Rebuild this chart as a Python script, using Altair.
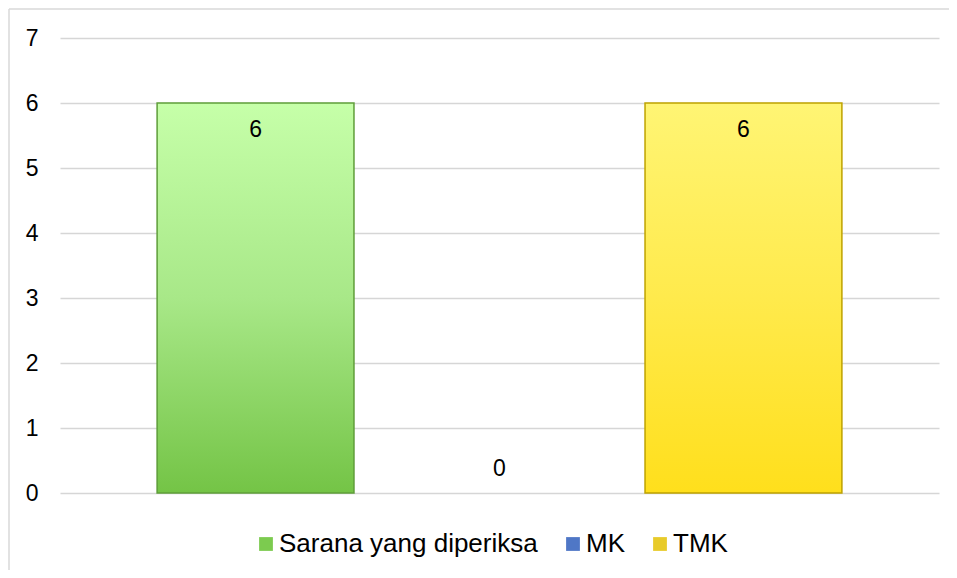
import altair as alt
import pandas as pd

# ---- data ----
series = ["Sarana yang diperiksa", "MK", "TMK"]
values = [6, 0, 6]
y_ticks = [0, 1, 2, 3, 4, 5, 6, 7]
legend_colors = ["#7ccb4f", "#4f77c6", "#e8cb2a"]

df = pd.DataFrame({"series": series, "value": values})

FONT = "Liberation Sans"

green_grad = alt.LinearGradient(
    gradient="linear",
    stops=[
        alt.GradientStop(color="#c6ffa9", offset=0),
        alt.GradientStop(color="#a8e888", offset=0.5),
        alt.GradientStop(color="#74c446", offset=1),
    ],
    x1=0, x2=0, y1=0, y2=1,
)
yellow_grad = alt.LinearGradient(
    gradient="linear",
    stops=[
        alt.GradientStop(color="#fff574", offset=0),
        alt.GradientStop(color="#ffea4c", offset=0.5),
        alt.GradientStop(color="#ffdf1c", offset=1),
    ],
    x1=0, x2=0, y1=0, y2=1,
)

x_enc = alt.X(
    "series:N",
    sort=series,
    axis=None,
    scale=alt.Scale(paddingInner=0.193, paddingOuter=0.398),
)
y_enc = alt.Y(
    "value:Q",
    scale=alt.Scale(domain=[0, 7], nice=False),
    axis=alt.Axis(
        values=y_ticks,
        title=None,
        domain=False,
        ticks=False,
        labelPadding=22,
        labelFontSize=23,
        labelFont=FONT,
        labelColor="#000000",
        gridColor="#d6d6d6",
        gridWidth=1.5,
    ),
)

base = alt.Chart(df)

solid = base.mark_bar(strokeWidth=0).encode(
    x=x_enc,
    y=y_enc,
    color=alt.Color(
        "series:N",
        sort=series,
        scale=alt.Scale(domain=series, range=legend_colors),
        legend=alt.Legend(
            title=None,
            orient="none",
            direction="horizontal",
            legendX=193,
            legendY=493,
            symbolType="square",
            symbolSize=190,
            symbolStrokeWidth=0,
            labelFont=FONT,
            labelFontSize=26,
            labelColor="#000000",
            labelOffset=0,
            columnPadding=22,
            labelLimit=400,
        ),
    ),
)

green = base.transform_filter(alt.datum.series == "Sarana yang diperiksa").mark_bar(
    fill=green_grad, stroke="#5f9e3a", strokeWidth=1.5
).encode(x=x_enc, y=y_enc)

yellow = base.transform_filter(alt.datum.series == "TMK").mark_bar(
    fill=yellow_grad, stroke="#bfa300", strokeWidth=1.5
).encode(x=x_enc, y=y_enc)

labels_pos = base.transform_filter(alt.datum.value > 0).mark_text(
    dy=27, baseline="middle", fontSize=23, font=FONT, color="#000000"
).encode(x=x_enc, y=y_enc, text="value:Q")

labels_zero = base.transform_filter(alt.datum.value == 0).mark_text(
    dy=-24, baseline="middle", fontSize=23, font=FONT, color="#000000"
).encode(x=x_enc, y=y_enc, text="value:Q")

frame_df = pd.DataFrame({"k": [0]})
top_border = alt.Chart(frame_df).mark_rule(color="#d9d9d9", strokeWidth=1.5).encode(
    x=alt.value(-51), x2=alt.value(900), y=alt.value(-29), y2=alt.value(-29)
)
left_border = alt.Chart(frame_df).mark_rule(color="#d9d9d9", strokeWidth=1.5).encode(
    x=alt.value(-51), x2=alt.value(-51), y=alt.value(-29), y2=alt.value(600)
)

chart = alt.layer(
    top_border, left_border, solid, green, yellow, labels_pos, labels_zero
).properties(
    width=879,
    height=455,
    autosize=alt.AutoSizeParams(type="none"),
    padding={"left": 52, "top": 30, "right": 10, "bottom": 77},
).configure_view(stroke=None)

chart.save("out.html", embed_options={"renderer": "svg", "actions": False})
